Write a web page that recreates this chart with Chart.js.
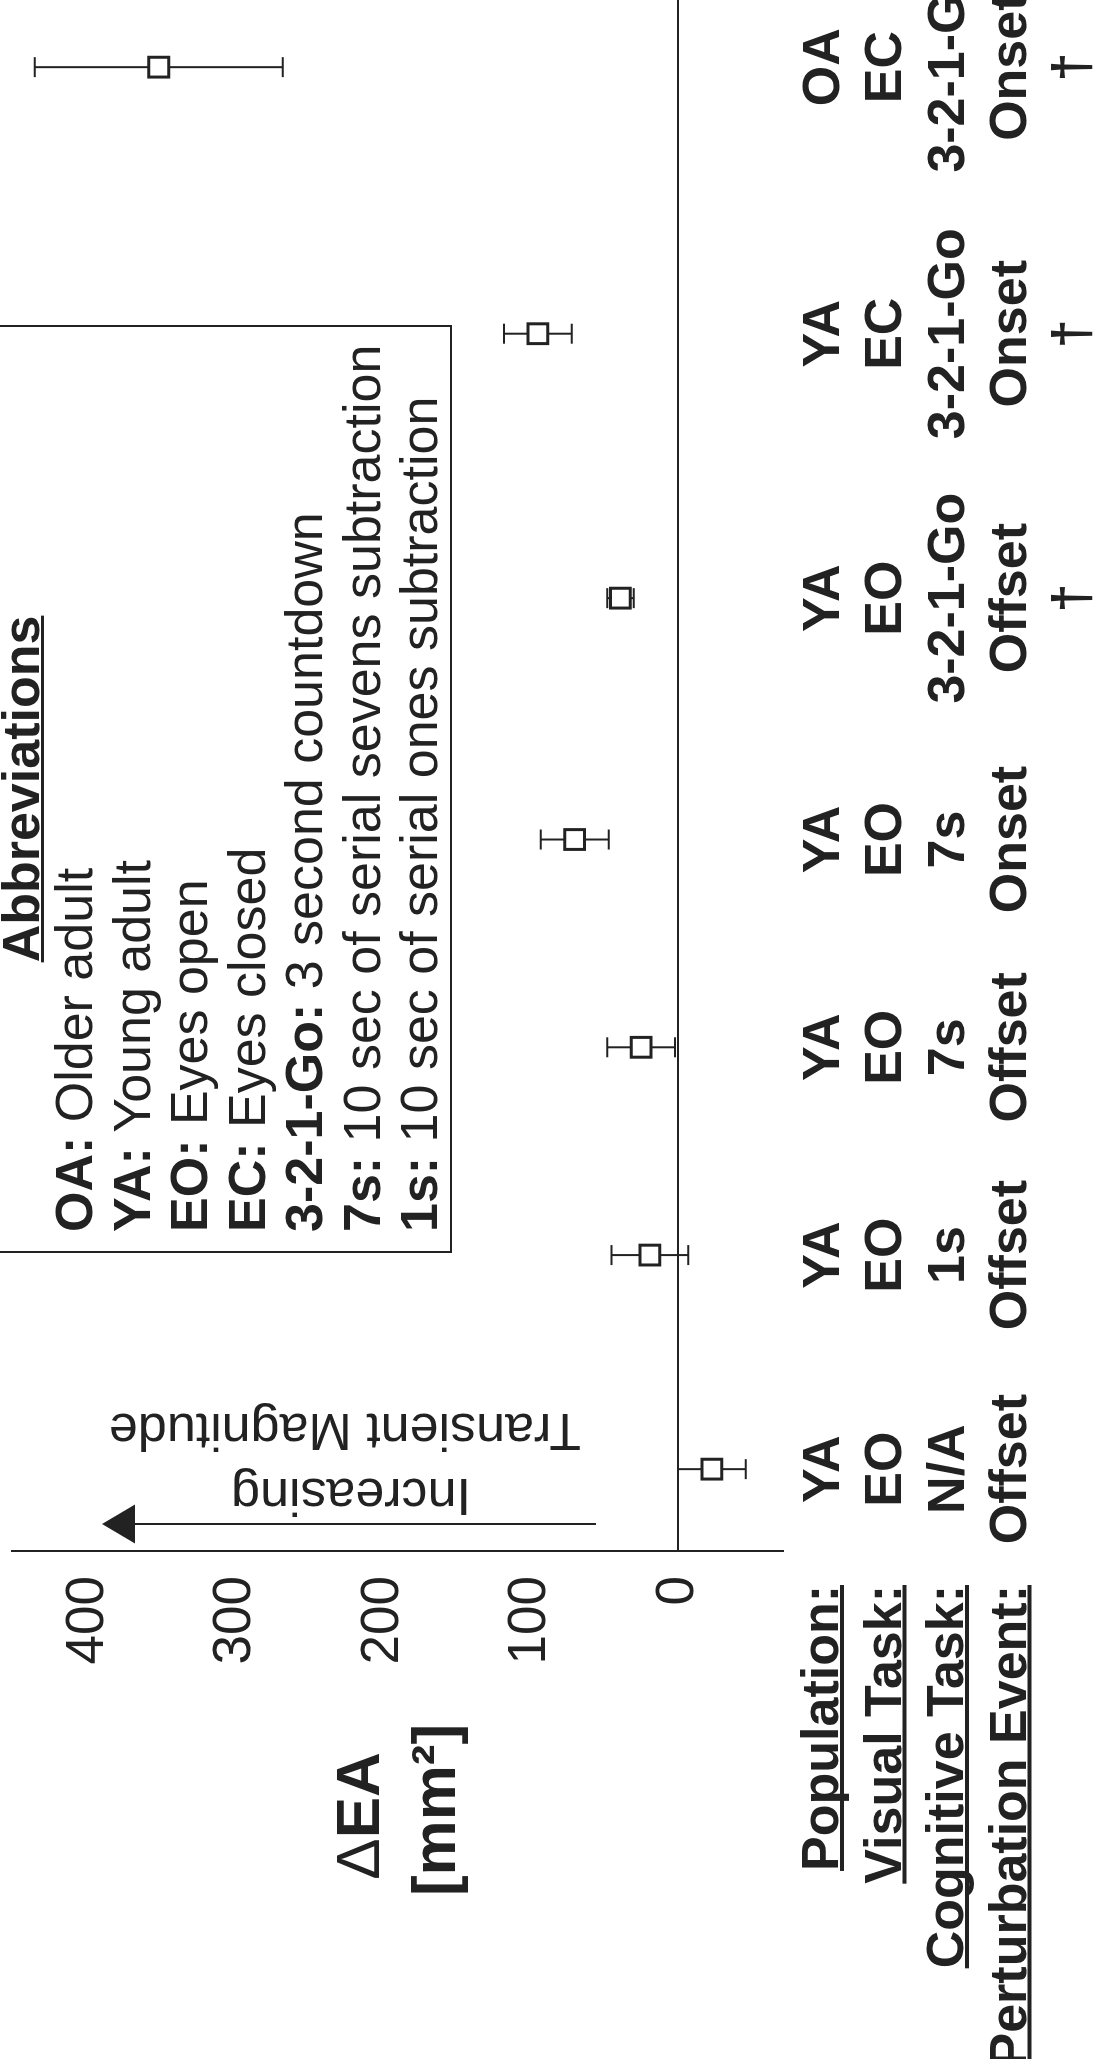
<!DOCTYPE html>
<html>
<head>
<meta charset="utf-8">
<title>ΔEA by condition</title>
<script src="https://cdn.jsdelivr.net/npm/chart.js@4.4.1/dist/chart.umd.min.js"></script>
<style>
  html, body { margin: 0; padding: 0; background: #fff; overflow: hidden; }
  /* the figure is drawn upright and turned a quarter turn to fit the page */
  #frame {
    position: absolute; left: 0; top: 0;
    width: 2059px; height: 1111px;
    transform-origin: 0 0;
    transform: translateY(2059px) rotate(-90deg);
  }
  canvas { display: block; width: 2059px; height: 1111px; }
</style>
</head>
<body>
<div id="frame"><canvas id="chart" width="2059" height="1111"></canvas></div>
<script>
const populations = ["YA", "YA", "YA", "YA", "YA", "YA", "OA"]
const visualTasks = ["EO", "EO", "EO", "EO", "EO", "EC", "EC"]
const cognitiveTasks = ["N/A", "1s", "7s", "7s", "3-2-1-Go", "3-2-1-Go", "3-2-1-Go"]
const perturbationEvents = ["Offset", "Offset", "Offset", "Onset", "Offset", "Onset", "Onset"]
const markers = ["", "", "", "", "†", "†", "†"]
const slots = [1, 2.02, 3.01, 4, 5.15, 6.41, 7.68]

const deltaEA = [-23, 19, 25, 70, 39, 95, 352]
const deltaEAError = [23, 26, 23, 23, 9, 23, 84]
const valueTicks = [0, 100, 200, 300, 400]

const rowHeadings = ["Population:", "Visual Task:", "Cognitive Task:", "Perturbation Event:"]
const abbreviationKeys = ["OA:", "YA:", "EO:", "EC:", "3-2-1-Go:", "7s:", "1s:"]
const abbreviationTexts = [
  " Older adult",
  " Young adult",
  " Eyes open",
  " Eyes closed",
  " 3 second countdown",
  " 10 sec of serial sevens subtraction",
  " 10 sec of serial ones subtraction",
]

const ink = "#222"
const FONT = '"Liberation Sans", Arial, Helvetica, sans-serif'

Chart.defaults.font.family = FONT
Chart.defaults.color = ink

function underlined(ctx, text, x, y, align, thickness) {
  ctx.textAlign = align
  ctx.fillText(text, x, y)
  const w = ctx.measureText(text).width
  let left = x
  if (align === "right") left = x - w
  if (align === "center") left = x - w / 2
  ctx.fillRect(left, y + 2, w, thickness)
}

function upwardText(ctx, text, x, y) {
  ctx.save()
  ctx.textAlign = "center"
  ctx.translate(x, y)
  ctx.rotate(-Math.PI / 2)
  ctx.fillText(text, 0, 0)
  ctx.restore()
}

const errorBars = {
  id: "errorBars",
  beforeDatasetsDraw(chart) {
    const { ctx, scales: { x, y } } = chart
    ctx.save()
    ctx.strokeStyle = ink
    ctx.lineWidth = 2
    deltaEA.forEach((v, i) => {
      const px = x.getPixelForValue(slots[i])
      const hi = y.getPixelForValue(v + deltaEAError[i])
      const lo = y.getPixelForValue(v - deltaEAError[i])
      ctx.beginPath()
      ctx.moveTo(px, hi)
      ctx.lineTo(px, lo)
      ctx.moveTo(px - 10, hi)
      ctx.lineTo(px + 10, hi)
      ctx.moveTo(px - 10, lo)
      ctx.lineTo(px + 10, lo)
      ctx.stroke()
    })
    ctx.restore()
  },
}

const annotations = {
  id: "annotations",
  afterDraw(chart) {
    const ctx = chart.ctx
    const area = chart.chartArea
    ctx.save()
    ctx.fillStyle = ink
    ctx.strokeStyle = ink
    ctx.textBaseline = "alphabetic"

    // axis title
    ctx.font = `normal 62px ${FONT}`
    const wDelta = ctx.measureText("Δ").width
    ctx.font = `bold 62px ${FONT}`
    const wEA = ctx.measureText("EA").width
    const startX = 243 - (wDelta + wEA) / 2
    ctx.textAlign = "left"
    ctx.font = `normal 62px ${FONT}`
    ctx.fillText("Δ", startX, 379)
    ctx.font = `bold 62px ${FONT}`
    ctx.fillText("EA", startX + wDelta, 379)
    ctx.textAlign = "center"
    ctx.fillText("[mm²]", 249, 455)

    // row headings beside the condition labels
    ctx.font = `bold 52px ${FONT}`
    rowHeadings.forEach((h, i) => {
      underlined(ctx, h, area.left - 34, area.bottom + 55 + i * 62.5, "right", 4)
    })

    // abbreviations box
    ctx.lineWidth = 2
    ctx.strokeRect(807, -10, 926, 461)
    ctx.font = `bold 52px ${FONT}`
    underlined(ctx, "Abbreviations", 1270, 39, "center", 3)
    abbreviationKeys.forEach((k, i) => {
      const y = 92 + i * 57.5
      ctx.textAlign = "left"
      ctx.font = `bold 52px ${FONT}`
      ctx.fillText(k, 827, y)
      const wk = ctx.measureText(k).width
      ctx.font = `normal 52px ${FONT}`
      ctx.fillText(abbreviationTexts[i], 827 + wk, y)
    })

    // arrow for increasing magnitude
    ctx.lineWidth = 2
    ctx.beginPath()
    ctx.moveTo(535, 596)
    ctx.lineTo(535, 130)
    ctx.stroke()
    ctx.beginPath()
    ctx.moveTo(535, 102)
    ctx.lineTo(515.5, 135)
    ctx.lineTo(554.5, 135)
    ctx.closePath()
    ctx.fill()

    ctx.font = `normal 52px ${FONT}`
    upwardText(ctx, "Increasing", 580, 351)
    upwardText(ctx, "Transient Magnitude", 645, 345)

    ctx.restore()
  },
}

new Chart(document.getElementById("chart"), {
  type: "scatter",
  data: {
    datasets: [{
      data: slots.map((s, i) => ({ x: s, y: deltaEA[i] })),
      pointStyle: "rect",
      pointRadius: 14,
      pointHoverRadius: 14,
      pointBorderWidth: 3,
      pointBackgroundColor: "#fff",
      pointBorderColor: ink,
      showLine: false,
      clip: false,
    }],
  },
  options: {
    responsive: false,
    devicePixelRatio: 1,
    animation: false,
    events: [],
    layout: {
      autoPadding: false,
      padding: { top: 12, right: 0, bottom: 0, left: 0 },
    },
    plugins: {
      legend: { display: false },
      tooltip: { enabled: false },
    },
    scales: {
      x: {
        type: "linear",
        min: 0.61,
        max: 8,
        border: { display: false },
        grid: { display: false, drawTicks: false },
        afterBuildTicks: (scale) => {
          scale.ticks = slots.map(v => ({ value: v }))
        },
        afterFit: (scale) => {
          scale.height = 328
          scale.paddingLeft = 0
          scale.paddingRight = 0
        },
        ticks: {
          autoSkip: false,
          maxRotation: 0,
          minRotation: 0,
          padding: 10,
          color: ink,
          font: { size: 52, weight: "bold", lineHeight: 1.202 },
          callback: (value, index) => [
            populations[index],
            visualTasks[index],
            cognitiveTasks[index],
            perturbationEvents[index],
            markers[index],
          ],
        },
      },
      y: {
        min: -71.2,
        max: 451.5,
        border: { display: true, color: ink, width: 2 },
        grid: {
          drawTicks: false,
          lineWidth: 2,
          color: (c) => (c.tick && c.tick.value === 0 ? ink : "rgba(0,0,0,0)"),
        },
        afterBuildTicks: (scale) => {
          scale.ticks = valueTicks.map(v => ({ value: v }))
        },
        afterFit: (scale) => {
          scale.width = 508
          scale.paddingTop = 0
          scale.paddingBottom = 0
        },
        ticks: {
          padding: 25,
          color: ink,
          font: { size: 53, weight: "normal" },
          callback: (value) => String(value),
        },
      },
    },
  },
  plugins: [errorBars, annotations],
})
</script>
</body>
</html>
